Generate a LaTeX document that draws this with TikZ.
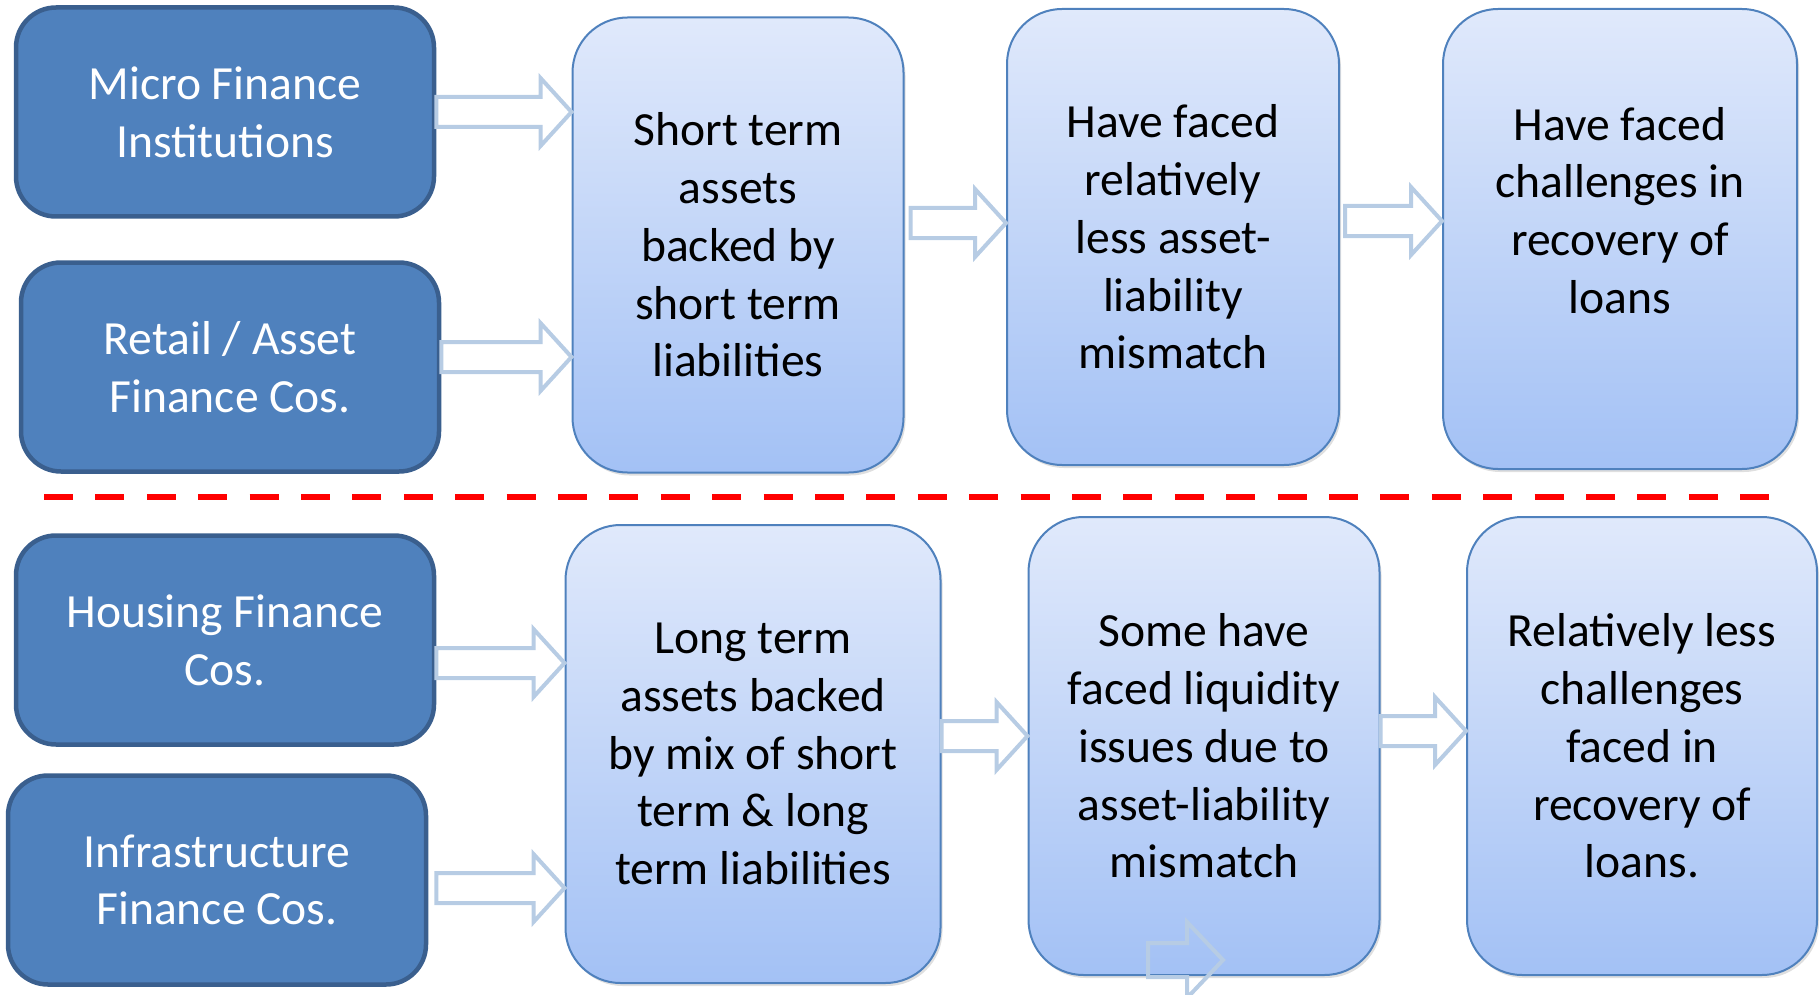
\documentclass[tikz,border=0pt]{standalone}
\usepackage{fontspec}
\setmainfont{Carlito}
\usetikzlibrary{calc,shadows}

\definecolor{darkfill}{HTML}{4F81BD}
\definecolor{darkedge}{HTML}{3A5F8E}
\definecolor{lighttop}{HTML}{E0E9FB}
\definecolor{lightbot}{HTML}{A3C1F5}
\definecolor{lightedge}{HTML}{4F81BD}
\definecolor{arrowedge}{HTML}{B7CCE4}

\newcommand{\boxfont}{\fontsize{47.6}{57.7}\selectfont}

\tikzstyle{source} = [draw=darkedge, line width=4.5pt, fill=darkfill,
    rounded corners=40pt, text=white, align=center, font=\boxfont,
    minimum width=418pt, minimum height=209pt]
\tikzstyle{stage} = [draw=lightedge, line width=2pt, top color=lighttop,
    bottom color=lightbot, rounded corners=55pt, align=center, font=\boxfont,
    drop shadow={shadow xshift=2pt, shadow yshift=-3pt, opacity=0.25}]
\tikzstyle{hollow} = [draw=arrowedge, line width=4pt, fill=white, line join=miter]

% fat outlined arrow from a point to the west side of a node
\newcommand{\hollowarrow}[2]{%
  \draw[hollow] let \p1=(#1), \p2=(#2.west) in
    (\x1,\y1+15pt) -- (\x2-31pt,\y1+15pt) -- (\x2-31pt,\y1+34pt) -- (\x2,\y1)
    -- (\x2-31pt,\y1-34pt) -- (\x2-31pt,\y1-15pt) -- (\x1,\y1-15pt) -- cycle;}

\begin{document}
\begin{tikzpicture}[x=1pt, y=-1pt]
    \useasboundingbox (0,0) rectangle (1820,995);

    % kinds of companies
    \node [source] (mfi) at (225,112) {Micro Finance\\Institutions};
    \node [source] (retail) at (230,367) {Retail / Asset\\Finance Cos.};
    \node [source] (housing) at (225,640) {Housing Finance\\Cos.};
    \node [source] (infra) at (217,880) {Infrastructure\\Finance Cos.};

    % upper row
    \node [stage, minimum width=331pt, minimum height=455pt] (short) at (738,245)
        {Short term\\assets\\backed by\\short term\\liabilities};
    \node [stage, minimum width=332pt, minimum height=456pt] (lessmis) at (1173,237)
        {Have faced\\relatively\\less asset-\\liability\\mismatch};
    \node [stage, minimum width=354pt, minimum height=460pt] (recovery) at (1620,239)
        {Have faced\\challenges in\\recovery of\\loans\\\mbox{}};

    % lower row
    \node [stage, minimum width=375pt, minimum height=458pt] (long) at (753,754)
        {Long term\\assets backed\\by mix of short\\term \& long\\term liabilities};
    \node [stage, minimum width=351pt, minimum height=458pt] (liquid) at (1204,746)
        {Some have\\faced liquidity\\issues due to\\asset-liability\\mismatch};
    \node [stage, minimum width=350pt, minimum height=458pt] (easier) at (1642,746)
        {Relatively less\\challenges\\faced in\\recovery of\\loans.};

    % separator
    \coordinate (cutL) at (44,497);
    \coordinate (cutR) at (1770,497);
    \draw [red, line width=6pt, dash pattern=on 29pt off 22.4pt] (cutL) -- (cutR);

    \hollowarrow{mfi.east}{short}
    \hollowarrow{$(retail.east)+(0,-10)$}{short}
    \hollowarrow{$(short.east)+(6,-22)$}{lessmis}
    \hollowarrow{$(lessmis.east)+(5,-16)$}{recovery}
    \hollowarrow{$(housing.east)+(0,23)$}{long}
    \hollowarrow{$(infra.east)+(8,8)$}{long}
    \hollowarrow{$(long.east)+(0,-18)$}{liquid}
    \hollowarrow{$(liquid.east)+(0,-15)$}{easier}

    % stray arrow on the bottom edge
    \coordinate (stray) at (1148,960);
    \draw [hollow, fill=none] (stray) ++(0,-17) -- ++(39,0) -- ++(0,-21) -- ++(36,38)
        -- ++(-36,38) -- ++(0,-21) -- ++(-39,0) -- cycle;
\end{tikzpicture}
\end{document}
